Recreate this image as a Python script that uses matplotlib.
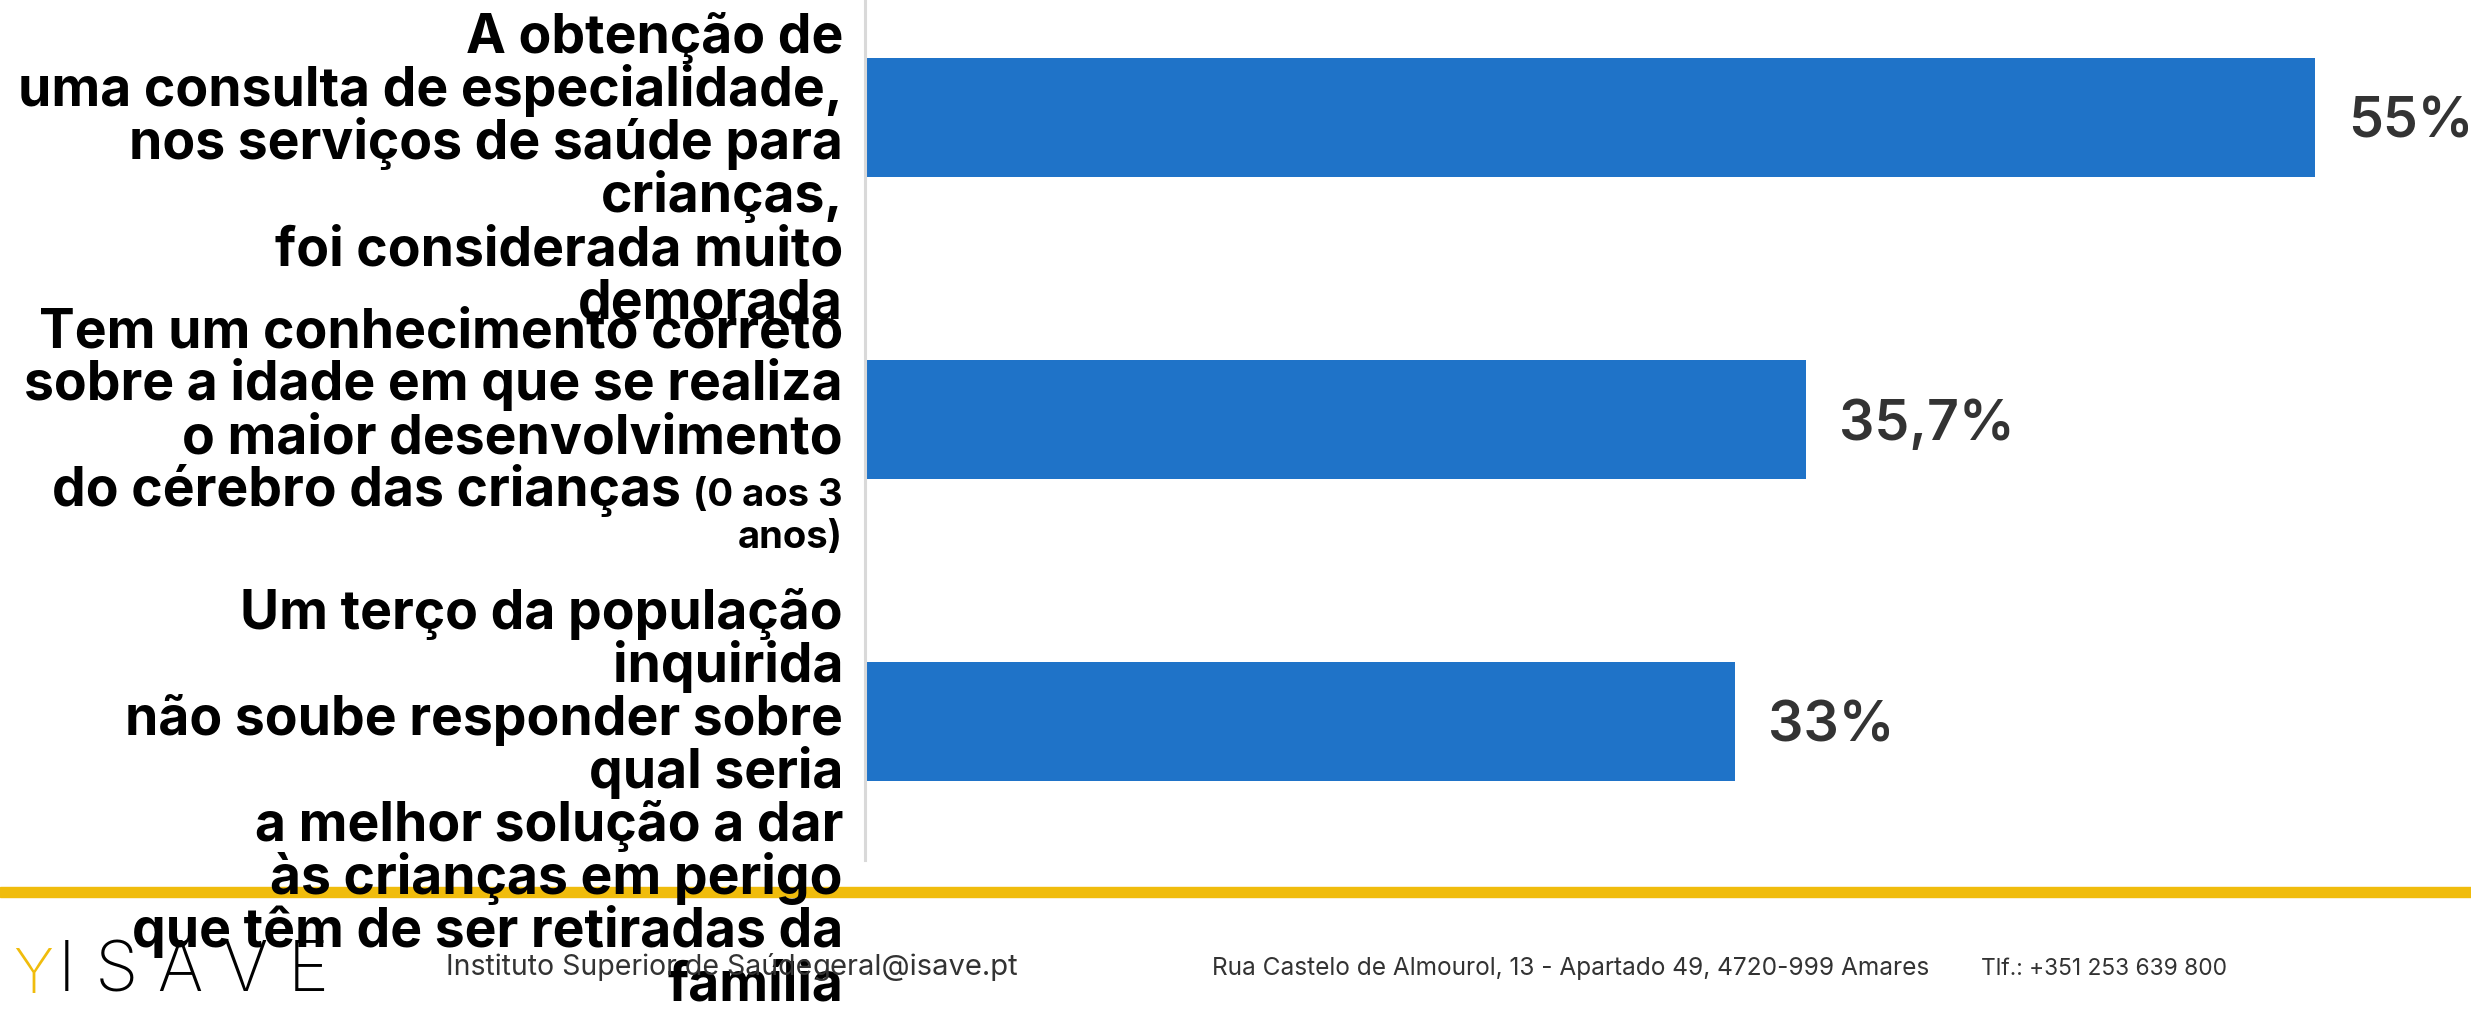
import matplotlib
matplotlib.use("Agg")
import matplotlib.pyplot as plt
from matplotlib import transforms
from matplotlib.patches import Rectangle

# chart data
categories = [
    ["A obtenção de", "uma consulta de especialidade,", "nos serviços de saúde para",
     "crianças,", "foi considerada muito", "demorada"],
    ["Tem um conhecimento correto", "sobre a idade em que se realiza",
     "o maior desenvolvimento", "do cérebro das crianças"],
    ["Um terço da população", "inquirida", "não soube responder sobre", "qual seria",
     "a melhor solução a dar", "às crianças em perigo", "que têm de ser retiradas da",
     "família"],
]
note_lines = ["(0 aos 3", "anos)"]   # smaller text that ends the 2nd label
values = [55, 35.7, 33]
value_labels = ["55%", "35,7%", "33%"]

footer_name = "Instituto Superior de Saúde"
footer_mail = "geral@isave.pt"
footer_mid = "Rua Castelo de Almourol, 13 - Apartado 49, 4720-999 Amares"
footer_right = "Tlf.: +351 253 639 800"
logo = "I S A V E"

# layout (pixels of the 2471x1011 picture)
W, H = 2471, 1011
first_baseline = [-64, -72, -92]   # first label line, relative to bar centre
line_step = 53
lab_size = 38.5
note_size = 27.5
blue = "#1f73c8"
yellow = "#f0bc0c"
grey = "#333333"

plt.rcParams['font.family'] = ['Inter', 'DejaVu Sans']

fig = plt.figure(figsize=(W / 100, H / 100), dpi=100)
ax = fig.add_axes([865 / W, 1 - 860 / H, 1 - 865 / W, 860 / H])
ax.patch.set_alpha(0)

pos = list(range(len(values)))
ax.barh(pos, values, height=0.394, color=blue)
ax.set_xlim(0, 60.93)
ax.set_ylim(2.459, -0.389)
for s in ["top", "right", "bottom"]:
    ax.spines[s].set_visible(False)
ax.spines["left"].set_color("#d9d9d9")
ax.spines["left"].set_linewidth(2.2)
ax.set_xticks([])
ax.set_yticks([])

ytrans = ax.get_yaxis_transform()
renderer = fig.canvas.get_renderer()
for i, lines in enumerate(categories):
    for k, line in enumerate(lines):
        dy = -(first_baseline[i] + k * line_step)
        if i == 1 and k == len(lines) - 1:
            t = transforms.offset_copy(ytrans, fig=fig, x=-22, y=dy, units='dots')
            small = ax.text(0, i, note_lines[0], transform=t, ha='right', va='baseline',
                            fontsize=note_size, fontweight='bold', clip_on=False)
            w = small.get_window_extent(renderer=renderer).width
            t = transforms.offset_copy(ytrans, fig=fig, x=-22 - w - 12, y=dy, units='dots')
            ax.text(0, i, line, transform=t, ha='right', va='baseline',
                    fontsize=lab_size, fontweight='bold', clip_on=False)
            t = transforms.offset_copy(ytrans, fig=fig, x=-22, y=dy - 42, units='dots')
            ax.text(0, i, note_lines[1], transform=t, ha='right', va='baseline',
                    fontsize=note_size, fontweight='bold', clip_on=False)
        else:
            t = transforms.offset_copy(ytrans, fig=fig, x=-22, y=dy, units='dots')
            ax.text(0, i, line, transform=t, ha='right', va='baseline',
                    fontsize=lab_size, fontweight='bold', clip_on=False)

for i, (v, lbl) in enumerate(zip(values, value_labels)):
    t = transforms.offset_copy(ax.transData, fig=fig, x=33, y=0, units='dots')
    ax.text(v, i, lbl, transform=t, ha='left', va='center_baseline',
            fontsize=40, fontweight='semibold', color=grey, clip_on=False)

# footer
fig.add_artist(Rectangle((0, 1 - 897 / H), 1, 10 / H, transform=fig.transFigure,
                         color=yellow, zorder=-1))
fig.text(13 / W, 1 - 993 / H, "Y", color=yellow, fontsize=44, fontweight='light',
         va='baseline')
fig.text(58 / W, 1 - 992 / H, logo, color="black", fontsize=50, fontweight='light',
         va='baseline')
name = fig.text(446 / W, 1 - 975 / H, footer_name, color=grey, fontsize=20.5,
                va='baseline')
name_right = name.get_window_extent(renderer=renderer).x1
fig.text(name_right / W, 1 - 975 / H, footer_mail, color=grey, fontsize=21,
         va='baseline')
fig.text(1212 / W, 1 - 975 / H, footer_mid, color=grey, fontsize=17.6, va='baseline')
fig.text(1981 / W, 1 - 975 / H, footer_right, color=grey, fontsize=16.4, va='baseline')

fig.savefig("out.png", dpi=100)
